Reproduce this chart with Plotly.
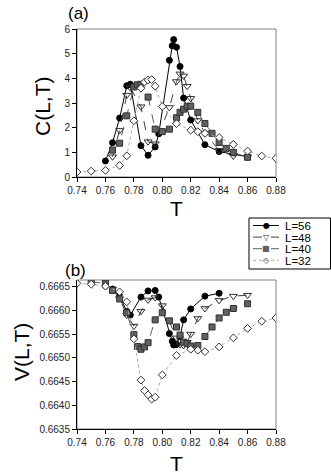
import plotly.graph_objects as go

# ---- panel (a): C(L,T) ----
t56_c = [0.760, 0.765, 0.770, 0.775, 0.7775, 0.785, 0.790, 0.795, 0.7975, 0.805, 0.807, 0.808,
         0.810, 0.8125, 0.815, 0.820, 0.830, 0.840, 0.860]
c56 = [0.65, 1.39, 2.39, 3.70, 3.76, 1.27, 0.88, 1.22, 1.75, 4.73, 5.32, 5.57,
       5.26, 4.48, 3.20, 2.31, 1.31, 1.03, 0.82]

t48_c = [0.765, 0.770, 0.775, 0.7775, 0.785, 0.790, 0.795, 0.805, 0.810, 0.8125, 0.815, 0.8175,
         0.820, 0.825, 0.830, 0.840, 0.850, 0.860]
c48 = [0.82, 1.89, 3.32, 3.62, 2.85, 1.43, 1.35, 2.82, 3.87, 4.18, 4.10, 3.68,
       3.19, 2.29, 1.78, 1.08, 0.85, 0.82]

t40_c = [0.765, 0.770, 0.775, 0.780, 0.7825, 0.785, 0.790, 0.795, 0.800, 0.805, 0.810, 0.8125,
         0.815, 0.8175, 0.820, 0.825, 0.830, 0.835, 0.840, 0.845, 0.850, 0.860]
c40 = [1.09, 1.37, 2.48, 3.65, 3.74, 3.76, 3.24, 1.94, 1.84, 1.94, 2.40, 2.62,
       2.75, 2.87, 2.87, 2.62, 2.17, 1.77, 1.40, 1.16, 1.00, 0.80]

t32_c = [0.74, 0.75, 0.76, 0.77, 0.775, 0.78, 0.785, 0.7875, 0.79, 0.7925, 0.795, 0.80,
         0.81, 0.82, 0.825, 0.83, 0.84, 0.85, 0.86, 0.87, 0.88]
c32 = [0.20, 0.24, 0.27, 0.47, 0.86, 2.28, 3.60, 3.85, 3.93, 3.95, 3.68, 2.86,
       2.16, 1.90, 1.84, 1.77, 1.60, 1.32, 1.05, 0.85, 0.76]

# ---- panel (b): V(L,T) ----
t56_v = [0.760, 0.765, 0.770, 0.775, 0.7775, 0.785, 0.790, 0.795, 0.7975, 0.805, 0.807, 0.808,
         0.810, 0.8125, 0.815, 0.820, 0.830, 0.840]
v56 = [0.66652, 0.66645, 0.66630, 0.66598, 0.66590, 0.66628, 0.66641, 0.66642, 0.66628, 0.66551,
       0.66535, 0.66527, 0.66528, 0.66545, 0.66580, 0.66603, 0.66630, 0.66636]

t48_v = [0.765, 0.770, 0.775, 0.780, 0.785, 0.790, 0.795, 0.800, 0.810, 0.8125, 0.815, 0.8175,
         0.820, 0.825, 0.830, 0.840, 0.850, 0.860]
v48 = [0.66645, 0.66625, 0.66590, 0.66567, 0.66598, 0.66622, 0.66627, 0.66610, 0.66542, 0.66528,
       0.66526, 0.66533, 0.66550, 0.66583, 0.66604, 0.66621, 0.66630, 0.66632]

t40_v = [0.750, 0.760, 0.765, 0.770, 0.775, 0.780, 0.7825, 0.785, 0.7875, 0.790, 0.795, 0.800,
         0.805, 0.810, 0.8125, 0.815, 0.8175, 0.820, 0.825, 0.830, 0.835, 0.840, 0.845, 0.850, 0.860]
v40 = [0.66660, 0.66657, 0.66642, 0.66624, 0.66595, 0.66549, 0.66524, 0.66518, 0.66523, 0.66532,
       0.66580, 0.66595, 0.66578, 0.66565, 0.66548, 0.66533, 0.66530, 0.66525, 0.66526, 0.66545,
       0.66565, 0.66584, 0.66596, 0.66604, 0.66614]

t32_v = [0.74, 0.75, 0.76, 0.77, 0.775, 0.78, 0.785, 0.7875, 0.79, 0.7925, 0.795, 0.80,
         0.81, 0.82, 0.825, 0.83, 0.84, 0.85, 0.86, 0.87, 0.88]
v32 = [0.66657, 0.66655, 0.66651, 0.66639, 0.66618, 0.66540, 0.66453, 0.66431, 0.66422, 0.66413,
       0.66417, 0.66464, 0.66505, 0.66518, 0.66516, 0.66513, 0.66523, 0.66542, 0.66562, 0.66577,
       0.66584]

x_ticks = [0.74, 0.76, 0.78, 0.80, 0.82, 0.84, 0.86, 0.88]
c_ticks = [0, 1, 2, 3, 4, 5, 6]
v_ticks = [0.6635, 0.6640, 0.6645, 0.6650, 0.6655, 0.6660, 0.6665]

W, H = 331, 475
FONT = "Liberation Sans, Arial, sans-serif"

# series styles: name, line color, dash, marker symbol, marker fill, marker line, legend glyph
styles = [
    ("L=56", "#000000", "solid", "circle", "#000000", "#000000", "●"),
    ("L=48", "#404040", "dash", "triangle-down-open", "#303030", "#303030", "▽"),
    ("L=40", "#606060", "dash", "square", "#606060", "#303030", "■"),
    ("L=32", "#a8a8a8", "dot", "diamond", "#ffffff", "#303030", "◇"),
]

c_data = [(t56_c, c56), (t48_c, c48), (t40_c, c40), (t32_c, c32)]
v_data = [(t56_v, v56), (t48_v, v48), (t40_v, v40), (t32_v, v32)]


def px(x):
    return x / W


def py(y):
    return 1 - y / H


fig = go.Figure()

for (name, lc, dash, sym, fill, mline, _), (tc, cv), (tv, vv) in zip(styles, c_data, v_data):
    marker = dict(symbol=sym, size=7 if "triangle" in sym else 6, color=fill,
                  line=dict(color=mline, width=1))
    fig.add_trace(go.Scatter(x=tc, y=cv, mode="lines+markers", name=name,
                             line=dict(color=lc, width=1, dash=dash), marker=marker,
                             xaxis="x", yaxis="y", showlegend=False))
    fig.add_trace(go.Scatter(x=tv, y=vv, mode="lines+markers", name=name,
                             line=dict(color=lc, width=1, dash=dash), marker=marker,
                             xaxis="x2", yaxis="y2", showlegend=False))

axis_common = dict(showgrid=False, zeroline=False, showline=True, linecolor="#000000",
                   linewidth=1, ticks="outside", ticklen=4, tickcolor="#000000",
                   automargin=False,
                   tickfont=dict(family=FONT, size=10, color="#222222"))

fig.update_layout(
    width=W, height=H,
    template="none",
    paper_bgcolor="white", plot_bgcolor="white",
    margin=dict(l=0, r=0, t=0, b=0, pad=0),
    font=dict(family=FONT, color="#000000"),
    xaxis=dict(domain=[px(77), px(276)], range=[0.74, 0.88], tickvals=x_ticks,
               tickformat=".2f", anchor="y", **axis_common),
    yaxis=dict(domain=[py(177), py(29)], range=[0, 6], tickvals=c_ticks,
               anchor="x", **axis_common),
    xaxis2=dict(domain=[px(77), px(276)], range=[0.74, 0.88], tickvals=x_ticks,
                tickformat=".2f", anchor="y2", **axis_common),
    yaxis2=dict(domain=[py(429), py(280)], range=[0.6635, 0.66664], tickvals=v_ticks,
                tickformat=".4f", anchor="x2", **axis_common),
    showlegend=False,
)

# gray plot-area frames
for xr, yr in [("x domain", "y domain"), ("x2 domain", "y2 domain")]:
    fig.add_shape(type="rect", xref=xr, yref=yr, x0=0, x1=1, y0=0, y1=1,
                  line=dict(color="#808080", width=1), layer="below")

# legend box drawn by hand (compact rows like the original)
fig.add_shape(type="rect", xref="paper", yref="paper", x0=px(249), x1=px(330.5),
              y0=py(269), y1=py(218), line=dict(color="#000000", width=1),
              fillcolor="white", layer="above")
for i, (name, lc, dash, sym, fill, mline, glyph) in enumerate(styles):
    yy = 225.5 + i * 11.6
    fig.add_shape(type="line", xref="paper", yref="paper", x0=px(253), x1=px(279),
                  y0=py(yy), y1=py(yy), line=dict(color=lc, width=1, dash=dash))
    fig.add_annotation(text=glyph, x=px(266), y=py(yy), xref="paper", yref="paper",
                       showarrow=False, xanchor="center", yanchor="middle",
                       font=dict(family="DejaVu Sans", size=8,
                                 color=fill if glyph in "●■" else mline))
    fig.add_annotation(text=name, x=px(284), y=py(yy), xref="paper", yref="paper",
                       showarrow=False, xanchor="left", yanchor="middle",
                       borderpad=0, height=11,
                       font=dict(family=FONT, size=11.5, color="#000000"))

labels = [
    ("(a)", 66, 13, 17, 0, "left"),
    ("C(L,T)", 42, 106, 21, -90, "center"),
    ("T", 176, 208, 21, 0, "center"),
    ("(b)", 63, 270, 17, 0, "left"),
    ("V(L,T)", 21, 352, 21, -90, "center"),
    ("T", 176, 463, 21, 0, "center"),
]
for text, x, y, size, ang, xa in labels:
    fig.add_annotation(text=text, x=px(x), y=py(y), xref="paper", yref="paper",
                       showarrow=False, textangle=ang, xanchor=xa, yanchor="middle",
                       font=dict(family=FONT, size=size, color="#000000"))

# the page's default body margin would push the figure 8px right/down
fig.write_html("out.html", config={"displayModeBar": False},
               post_script="document.body.style.margin='0';")
